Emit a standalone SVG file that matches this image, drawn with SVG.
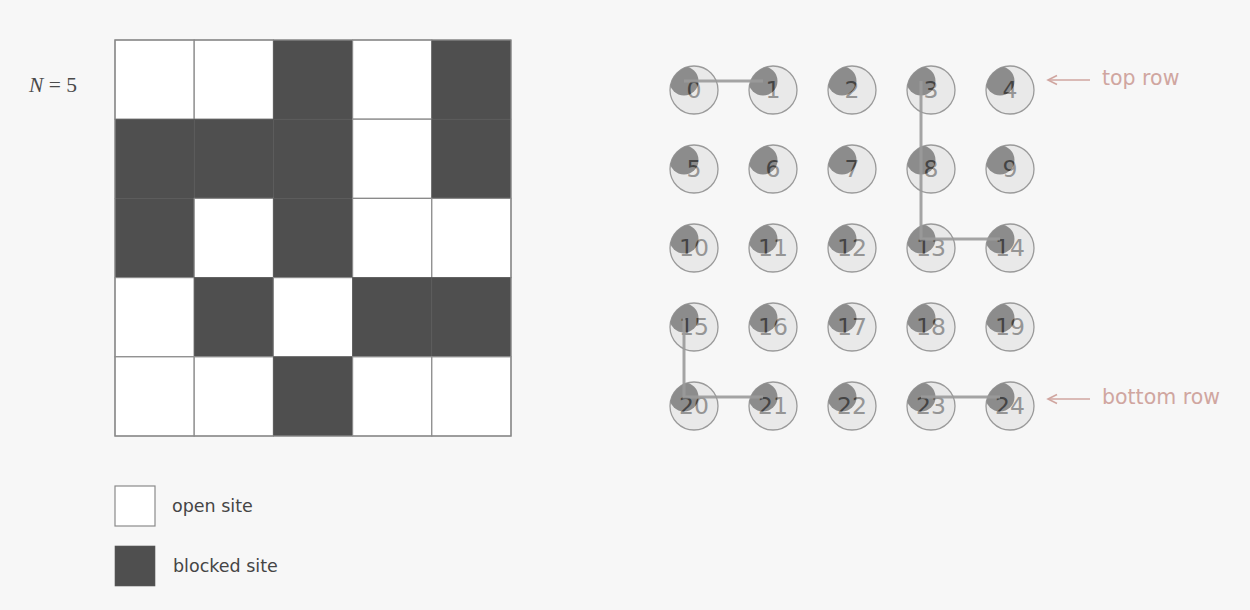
<svg xmlns="http://www.w3.org/2000/svg" xmlns:xlink="http://www.w3.org/1999/xlink" width="1250" height="610" viewBox="0 0 1250 610">
<style>
.bg{fill:#f7f7f7}
.open{fill:#ffffff;stroke:#8a8a8a;stroke-width:1.2}
.blocked{fill:#4f4f4f;stroke:#5a5a5a;stroke-width:0.6}
.outer{fill:#e9e9e9;stroke:#9a9a9a;stroke-width:1.3}
.blob{fill:#8c8c8c}
.num{font-family:"DejaVu Sans","Liberation Sans",sans-serif;font-size:23.5px;text-anchor:middle}
.lt{fill:#959595}
.dk{fill:#444444}
.edge{stroke:#9a9a9a;stroke-width:3;fill:none;opacity:0.9}
.lbl{font-family:"DejaVu Sans","Liberation Sans",sans-serif;font-size:20.5px;fill:#d0a6a0}
.arrow{stroke:#d0a6a0;stroke-width:1.6;fill:none}
.leg{font-family:"DejaVu Sans","Liberation Sans",sans-serif;font-size:17.5px;fill:#454545}
</style>
<defs>
<clipPath id="outerclip" clipPathUnits="userSpaceOnUse"><circle cx="0" cy="0" r="24"/></clipPath>
<clipPath id="blobclip" clipPathUnits="userSpaceOnUse"><circle cx="-10" cy="-9" r="14.5"/></clipPath>
</defs>
<rect class="bg" x="0" y="0" width="1250" height="610"/>

<g id="label-n">
<text x="29" y="92" font-family="'Liberation Serif',serif" font-size="21.5" fill="#4a4a4a"><tspan font-style="italic">N</tspan> = 5</text>
</g>

<g id="grid">
<rect class="open" x="115" y="40" width="79.2" height="79.2"/>
<rect class="open" x="194.2" y="40" width="79.2" height="79.2"/>
<rect class="blocked" x="273.4" y="40" width="79.2" height="79.2"/>
<rect class="open" x="352.6" y="40" width="79.2" height="79.2"/>
<rect class="blocked" x="431.8" y="40" width="79.2" height="79.2"/>

<rect class="blocked" x="115" y="119.2" width="79.2" height="79.2"/>
<rect class="blocked" x="194.2" y="119.2" width="79.2" height="79.2"/>
<rect class="blocked" x="273.4" y="119.2" width="79.2" height="79.2"/>
<rect class="open" x="352.6" y="119.2" width="79.2" height="79.2"/>
<rect class="blocked" x="431.8" y="119.2" width="79.2" height="79.2"/>

<rect class="blocked" x="115" y="198.4" width="79.2" height="79.2"/>
<rect class="open" x="194.2" y="198.4" width="79.2" height="79.2"/>
<rect class="blocked" x="273.4" y="198.4" width="79.2" height="79.2"/>
<rect class="open" x="352.6" y="198.4" width="79.2" height="79.2"/>
<rect class="open" x="431.8" y="198.4" width="79.2" height="79.2"/>

<rect class="open" x="115" y="277.6" width="79.2" height="79.2"/>
<rect class="blocked" x="194.2" y="277.6" width="79.2" height="79.2"/>
<rect class="open" x="273.4" y="277.6" width="79.2" height="79.2"/>
<rect class="blocked" x="352.6" y="277.6" width="79.2" height="79.2"/>
<rect class="blocked" x="431.8" y="277.6" width="79.2" height="79.2"/>

<rect class="open" x="115" y="356.8" width="79.2" height="79.2"/>
<rect class="open" x="194.2" y="356.8" width="79.2" height="79.2"/>
<rect class="blocked" x="273.4" y="356.8" width="79.2" height="79.2"/>
<rect class="open" x="352.6" y="356.8" width="79.2" height="79.2"/>
<rect class="open" x="431.8" y="356.8" width="79.2" height="79.2"/>
<rect x="115" y="40" width="396" height="396" fill="none" stroke="#8a8a8a" stroke-width="1.2"/>
</g>

<g id="legend">
<rect class="open" x="115" y="486" width="40" height="40"/>
<text class="leg" x="172" y="512">open site</text>
<rect class="blocked" x="115" y="546" width="40" height="40"/>
<text class="leg" x="173" y="572">blocked site</text>
</g>

<g id="nodes">
<g id="node-0" transform="translate(694,90)"><circle class="outer" r="24"/><circle class="blob" cx="-10" cy="-9" r="14.5" clip-path="url(#outerclip)"/><text class="num lt" y="8">0</text><text class="num dk" y="8" clip-path="url(#blobclip)">0</text></g>
<g id="node-1" transform="translate(773,90)"><circle class="outer" r="24"/><circle class="blob" cx="-10" cy="-9" r="14.5" clip-path="url(#outerclip)"/><text class="num lt" y="8">1</text><text class="num dk" y="8" clip-path="url(#blobclip)">1</text></g>
<g id="node-2" transform="translate(852,90)"><circle class="outer" r="24"/><circle class="blob" cx="-10" cy="-9" r="14.5" clip-path="url(#outerclip)"/><text class="num lt" y="8">2</text><text class="num dk" y="8" clip-path="url(#blobclip)">2</text></g>
<g id="node-3" transform="translate(931,90)"><circle class="outer" r="24"/><circle class="blob" cx="-10" cy="-9" r="14.5" clip-path="url(#outerclip)"/><text class="num lt" y="8">3</text><text class="num dk" y="8" clip-path="url(#blobclip)">3</text></g>
<g id="node-4" transform="translate(1010,90)"><circle class="outer" r="24"/><circle class="blob" cx="-10" cy="-9" r="14.5" clip-path="url(#outerclip)"/><text class="num lt" y="8">4</text><text class="num dk" y="8" clip-path="url(#blobclip)">4</text></g>

<g id="node-5" transform="translate(694,169)"><circle class="outer" r="24"/><circle class="blob" cx="-10" cy="-9" r="14.5" clip-path="url(#outerclip)"/><text class="num lt" y="8">5</text><text class="num dk" y="8" clip-path="url(#blobclip)">5</text></g>
<g id="node-6" transform="translate(773,169)"><circle class="outer" r="24"/><circle class="blob" cx="-10" cy="-9" r="14.5" clip-path="url(#outerclip)"/><text class="num lt" y="8">6</text><text class="num dk" y="8" clip-path="url(#blobclip)">6</text></g>
<g id="node-7" transform="translate(852,169)"><circle class="outer" r="24"/><circle class="blob" cx="-10" cy="-9" r="14.5" clip-path="url(#outerclip)"/><text class="num lt" y="8">7</text><text class="num dk" y="8" clip-path="url(#blobclip)">7</text></g>
<g id="node-8" transform="translate(931,169)"><circle class="outer" r="24"/><circle class="blob" cx="-10" cy="-9" r="14.5" clip-path="url(#outerclip)"/><text class="num lt" y="8">8</text><text class="num dk" y="8" clip-path="url(#blobclip)">8</text></g>
<g id="node-9" transform="translate(1010,169)"><circle class="outer" r="24"/><circle class="blob" cx="-10" cy="-9" r="14.5" clip-path="url(#outerclip)"/><text class="num lt" y="8">9</text><text class="num dk" y="8" clip-path="url(#blobclip)">9</text></g>

<g id="node-10" transform="translate(694,248)"><circle class="outer" r="24"/><circle class="blob" cx="-10" cy="-9" r="14.5" clip-path="url(#outerclip)"/><text class="num lt" y="8">10</text><text class="num dk" y="8" clip-path="url(#blobclip)">10</text></g>
<g id="node-11" transform="translate(773,248)"><circle class="outer" r="24"/><circle class="blob" cx="-10" cy="-9" r="14.5" clip-path="url(#outerclip)"/><text class="num lt" y="8">11</text><text class="num dk" y="8" clip-path="url(#blobclip)">11</text></g>
<g id="node-12" transform="translate(852,248)"><circle class="outer" r="24"/><circle class="blob" cx="-10" cy="-9" r="14.5" clip-path="url(#outerclip)"/><text class="num lt" y="8">12</text><text class="num dk" y="8" clip-path="url(#blobclip)">12</text></g>
<g id="node-13" transform="translate(931,248)"><circle class="outer" r="24"/><circle class="blob" cx="-10" cy="-9" r="14.5" clip-path="url(#outerclip)"/><text class="num lt" y="8">13</text><text class="num dk" y="8" clip-path="url(#blobclip)">13</text></g>
<g id="node-14" transform="translate(1010,248)"><circle class="outer" r="24"/><circle class="blob" cx="-10" cy="-9" r="14.5" clip-path="url(#outerclip)"/><text class="num lt" y="8">14</text><text class="num dk" y="8" clip-path="url(#blobclip)">14</text></g>

<g id="node-15" transform="translate(694,327)"><circle class="outer" r="24"/><circle class="blob" cx="-10" cy="-9" r="14.5" clip-path="url(#outerclip)"/><text class="num lt" y="8">15</text><text class="num dk" y="8" clip-path="url(#blobclip)">15</text></g>
<g id="node-16" transform="translate(773,327)"><circle class="outer" r="24"/><circle class="blob" cx="-10" cy="-9" r="14.5" clip-path="url(#outerclip)"/><text class="num lt" y="8">16</text><text class="num dk" y="8" clip-path="url(#blobclip)">16</text></g>
<g id="node-17" transform="translate(852,327)"><circle class="outer" r="24"/><circle class="blob" cx="-10" cy="-9" r="14.5" clip-path="url(#outerclip)"/><text class="num lt" y="8">17</text><text class="num dk" y="8" clip-path="url(#blobclip)">17</text></g>
<g id="node-18" transform="translate(931,327)"><circle class="outer" r="24"/><circle class="blob" cx="-10" cy="-9" r="14.5" clip-path="url(#outerclip)"/><text class="num lt" y="8">18</text><text class="num dk" y="8" clip-path="url(#blobclip)">18</text></g>
<g id="node-19" transform="translate(1010,327)"><circle class="outer" r="24"/><circle class="blob" cx="-10" cy="-9" r="14.5" clip-path="url(#outerclip)"/><text class="num lt" y="8">19</text><text class="num dk" y="8" clip-path="url(#blobclip)">19</text></g>

<g id="node-20" transform="translate(694,406)"><circle class="outer" r="24"/><circle class="blob" cx="-10" cy="-9" r="14.5" clip-path="url(#outerclip)"/><text class="num lt" y="8">20</text><text class="num dk" y="8" clip-path="url(#blobclip)">20</text></g>
<g id="node-21" transform="translate(773,406)"><circle class="outer" r="24"/><circle class="blob" cx="-10" cy="-9" r="14.5" clip-path="url(#outerclip)"/><text class="num lt" y="8">21</text><text class="num dk" y="8" clip-path="url(#blobclip)">21</text></g>
<g id="node-22" transform="translate(852,406)"><circle class="outer" r="24"/><circle class="blob" cx="-10" cy="-9" r="14.5" clip-path="url(#outerclip)"/><text class="num lt" y="8">22</text><text class="num dk" y="8" clip-path="url(#blobclip)">22</text></g>
<g id="node-23" transform="translate(931,406)"><circle class="outer" r="24"/><circle class="blob" cx="-10" cy="-9" r="14.5" clip-path="url(#outerclip)"/><text class="num lt" y="8">23</text><text class="num dk" y="8" clip-path="url(#blobclip)">23</text></g>
<g id="node-24" transform="translate(1010,406)"><circle class="outer" r="24"/><circle class="blob" cx="-10" cy="-9" r="14.5" clip-path="url(#outerclip)"/><text class="num lt" y="8">24</text><text class="num dk" y="8" clip-path="url(#blobclip)">24</text></g>
</g>

<g id="connectors">
<line class="edge" x1="684" y1="81" x2="763" y2="81"/>
<polyline class="edge" points="921,81 921,239 1000,239"/>
<polyline class="edge" points="684,318 684,397 763,397"/>
<line class="edge" x1="921" y1="397" x2="1000" y2="397"/>
</g>

<g id="label-top">
<line class="arrow" x1="1048" y1="80" x2="1090" y2="80"/>
<polyline class="arrow" points="1057,75.5 1048,80 1057,84.5"/>
<text class="lbl" x="1102" y="85">top row</text>
</g>
<g id="label-bottom">
<line class="arrow" x1="1048" y1="399" x2="1090" y2="399"/>
<polyline class="arrow" points="1057,394.5 1048,399 1057,403.5"/>
<text class="lbl" x="1102" y="404">bottom row</text>
</g>
</svg>
